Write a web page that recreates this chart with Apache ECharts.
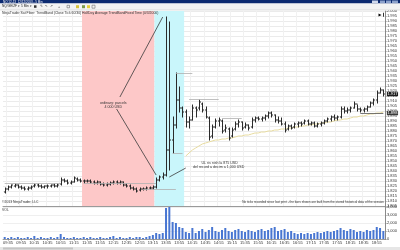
<!DOCTYPE html>
<html><head><meta charset="utf-8">
<script src="https://cdn.jsdelivr.net/npm/echarts@6/dist/echarts.min.js"></script>
<style>html,body{margin:0;padding:0;background:#fff}#c{width:400px;height:250px}</style>
</head><body><div id="c"></div>
<script>
// 5-minute bars
const categories = [];
for (let k = 0; k < 116; k++) {
  const m = 9 * 60 + 30 + 5 * k;
  categories.push(String(Math.floor(m / 60)).padStart(2, '0') + ':' + String(m % 60).padStart(2, '0'));
}
const opens = [1.819,1.822,1.824,1.825,1.826,1.824,1.823,1.822,1.823,1.825,1.826,1.825,1.824,1.825,1.825,1.826,1.825,1.827,1.831,1.830,
1.828,1.829,1.832,1.831,1.830,1.830,1.830,1.829,1.828,1.829,1.827,1.826,1.827,1.828,1.829,1.828,1.829,1.826,1.825,1.823,
1.822,1.821,1.822,1.822,1.823,1.823,1.824,1.831,1.834,1.836,1.861,1.871,1.886,1.911,1.903,1.899,1.889,1.891,1.903,1.903,
1.907,1.901,1.893,1.875,1.884,1.890,1.890,1.881,1.882,1.875,1.882,1.887,1.889,1.884,1.886,1.884,1.891,1.893,1.892,1.893,
1.895,1.898,1.896,1.891,1.890,1.887,1.882,1.885,1.884,1.887,1.888,1.888,1.890,1.887,1.888,1.885,1.887,1.888,1.890,1.892,
1.894,1.893,1.894,1.902,1.900,1.901,1.903,1.907,1.902,1.901,1.902,1.904,1.908,1.911,1.918,1.921];
const closes = [1.822,1.824,1.826,1.826,1.824,1.823,1.822,1.823,1.824,1.826,1.825,1.824,1.825,1.825,1.826,1.825,1.826,1.831,1.830,1.828,
1.829,1.833,1.831,1.830,1.830,1.830,1.829,1.828,1.829,1.827,1.826,1.827,1.828,1.829,1.828,1.829,1.826,1.825,1.823,1.822,
1.820,1.822,1.822,1.823,1.823,1.824,1.831,1.834,1.836,1.861,1.871,1.886,1.911,1.903,1.899,1.889,1.891,1.903,1.901,1.909,
1.901,1.894,1.874,1.884,1.890,1.891,1.880,1.883,1.873,1.881,1.887,1.889,1.883,1.886,1.883,1.891,1.893,1.892,1.893,1.895,
1.898,1.896,1.891,1.890,1.887,1.881,1.885,1.883,1.887,1.888,1.887,1.890,1.887,1.888,1.885,1.887,1.888,1.890,1.892,1.894,
1.893,1.894,1.902,1.900,1.901,1.903,1.907,1.902,1.901,1.902,1.904,1.908,1.911,1.918,1.921,1.917];
const lows = [1.818,1.821,1.823,1.824,1.823,1.822,1.821,1.821,1.822,1.824,1.824,1.823,1.823,1.823,1.824,1.824,1.824,1.826,1.829,1.827,
1.827,1.829,1.830,1.829,1.828,1.829,1.828,1.827,1.827,1.826,1.825,1.825,1.826,1.827,1.827,1.827,1.825,1.824,1.822,1.821,
1.819,1.820,1.821,1.821,1.822,1.822,1.823,1.830,1.832,1.835,1.841,1.858,1.883,1.899,1.894,1.884,1.883,1.891,1.894,1.901,
1.899,1.893,1.871,1.873,1.883,1.885,1.878,1.879,1.871,1.874,1.881,1.884,1.881,1.883,1.881,1.883,1.889,1.891,1.890,1.891,
1.893,1.894,1.889,1.888,1.886,1.879,1.881,1.882,1.883,1.884,1.885,1.887,1.886,1.886,1.884,1.884,1.885,1.887,1.889,1.890,
1.891,1.891,1.893,1.898,1.898,1.899,1.903,1.900,1.899,1.899,1.900,1.904,1.906,1.908,1.918,1.915];
const highs = [1.823,1.825,1.826,1.827,1.826,1.825,1.824,1.824,1.825,1.827,1.827,1.826,1.825,1.826,1.826,1.827,1.827,1.833,1.832,1.831,
1.830,1.834,1.833,1.832,1.831,1.831,1.831,1.830,1.830,1.829,1.828,1.828,1.829,1.830,1.830,1.830,1.829,1.827,1.826,1.824,
1.823,1.823,1.823,1.824,1.824,1.825,1.833,1.835,1.838,1.994,1.989,1.894,1.938,1.924,1.904,1.901,1.894,1.906,1.904,1.911,
1.908,1.904,1.894,1.886,1.892,1.893,1.891,1.886,1.883,1.883,1.889,1.891,1.889,1.888,1.886,1.893,1.894,1.894,1.894,1.896,
1.899,1.899,1.896,1.894,1.893,1.889,1.886,1.886,1.888,1.889,1.889,1.891,1.891,1.889,1.889,1.888,1.889,1.891,1.893,1.895,
1.896,1.895,1.904,1.904,1.903,1.904,1.909,1.906,1.903,1.903,1.905,1.909,1.912,1.920,1.923,1.921];
const volumes = [250,125,250,125,250,125,125,250,125,375,125,250,125,125,250,125,250,625,
250,125,125,250,125,125,250,125,250,125,125,250,125,125,250,375,125,250,125,125,250,125,250,250,125,250,
375,500,750,625,750,3875,4000,2125,2000,1500,1375,875,750,1375,750,
1000,1250,875,1125,1500,1000,875,1125,1375,1000,875,1125,1250,1000,875,1125,1000,875,1125,1250,
1000,1125,1375,1500,1000,1125,1250,875,1000,750,625,750,625,750,625,750,875,750,875,1000,
875,1000,1125,1375,1125,1000,1250,1125,875,1000,875,1125,1000,1125,1500,1375,1000];
const maValues = [null,null,null,null,null,null,null,null,null,null,null,null,null,null,null,null,null,null,null,null,
null,null,null,null,null,null,null,null,null,null,null,null,null,null,null,null,null,null,null,null,
null,null,null,null,null,null,null,null,null,null,null,null,null,null,null,
1.855,1.858,1.861,1.863,1.865,1.867,1.868,1.869,1.870,1.871,1.871,1.872,1.872,1.873,1.873,1.874,1.875,1.875,1.876,1.876,
1.877,1.878,1.878,1.879,1.879,1.880,1.880,1.881,1.881,1.882,1.882,1.883,1.883,1.884,1.884,1.885,1.885,1.886,1.886,1.887,
1.887,1.888,1.888,1.889,1.889,1.890,1.891,1.891,1.892,1.892,1.893,1.894,1.894,1.895,1.895,1.896,1.897,1.897,1.898,1.898,1.899];
// shaded sessions: [first bar, last bar]
const zones = [[24, 45], [46, 54]];
// horizontal level segments: [first bar, last bar, price]
const levels = [[0,17,1.828],[24,46,1.828],[42,52,1.822],[51,54,1.858],[52,57,1.938],[56,65,1.912],[66,72,1.893]];
// annotation arrows: [bar, price] -> [bar, price]
const arrows = [[[35,1.914],[48,1.994]],[[34,1.902],[46,1.836]],[[55,1.843],[50,1.834]]];
const notes = [[33,1.906,'ordinary: parcels\n4 000 USD'],[65,1.846,'  UL ris nish la 875 USD\ndel record a decim a 1,000 USD']];
const lastLevel = [108, 115, 1.898];

const zoneColors = ['#fdc8c8', '#c9f6fb'];
const FONT = 'Liberation Sans';
const lblInt = function (i) { return i % 4 === 1; };

const chart = echarts.init(document.getElementById('c'), null, {renderer: 'canvas'});
const ohlc = categories.map((c, k) => [k, opens[k], closes[k], lows[k], highs[k]]);

chart.setOption({
  animation: false,
  textStyle: {fontFamily: FONT},
  grid: [
    {left: 3, right: 14, top: 11, height: 195},
    {left: 3, right: 14, top: 207, height: 32}
  ],
  xAxis: [
    {type: 'category', data: categories, gridIndex: 0, boundaryGap: true,
     axisLine: {show: true, lineStyle: {color: '#9a9a9a', width: 1}}, axisTick: {show: false}, axisLabel: {show: false},
     splitLine: {show: true, interval: lblInt, lineStyle: {color: '#f1f1f1', width: 1}}},
    {type: 'category', data: categories, gridIndex: 1, boundaryGap: true,
     axisLine: {show: true, lineStyle: {color: '#9a9a9a', width: 1}},
     axisTick: {show: true, interval: lblInt, alignWithLabel: true, length: 1.5, lineStyle: {color: '#888'}},
     axisLabel: {show: true, interval: lblInt, fontSize: 4, margin: 2, color: '#333', fontFamily: FONT},
     splitLine: {show: false}}
  ],
  yAxis: [
    {type: 'value', gridIndex: 0, position: 'right', min: 1.805, max: 2.000, interval: 0.005,
     axisLine: {show: true, lineStyle: {color: '#8a8a8a', width: 1}},
     axisTick: {show: true, length: 1.5, lineStyle: {color: '#888'}},
     axisLabel: {fontSize: 4, margin: 2, color: '#333', fontFamily: FONT, formatter: v => v.toFixed(3)},
     splitLine: {show: true, lineStyle: {color: '#ebebeb', width: 1}}},
    {type: 'value', gridIndex: 1, position: 'right', min: 0, max: 4000, interval: 1000,
     axisLine: {show: true, lineStyle: {color: '#8a8a8a', width: 1}},
     axisTick: {show: true, length: 1.5, lineStyle: {color: '#888'}},
     axisLabel: {fontSize: 4, margin: 2, color: '#333', fontFamily: FONT},
     splitLine: {show: true, lineStyle: {color: '#efefef', width: 1}}}
  ],
  series: [
    {type: 'custom', name: 'zones', xAxisIndex: 0, yAxisIndex: 0, z: 1, silent: true,
     data: zones.map((z, k) => [z[0], z[1], 1.9, k]),
     encode: {x: [0, 1], y: 2},
     renderItem: function (params, api) {
       const a = api.coord([api.value(0), 1.9]);
       const b = api.coord([api.value(1), 1.9]);
       const w = api.size([1, 0])[0];
       const cs = params.coordSys;
       return {type: 'rect', shape: {x: a[0] - w / 2, y: cs.y, width: b[0] - a[0] + w, height: cs.height},
               style: {fill: zoneColors[api.value(3)]}};
     }},
    {type: 'line', name: 'avg', xAxisIndex: 0, yAxisIndex: 0, z: 3, data: maValues, showSymbol: false, symbol: 'none',
     connectNulls: false, lineStyle: {color: '#e8dca0', width: 1},
     markLine: {symbol: ['none', 'none'], silent: true, label: {show: false}, animation: false,
       data: levels.map(l => [{coord: [l[0], l[2]], lineStyle: {color: '#b0b0b0', width: 0.8, type: 'solid'}}, {coord: [l[1], l[2]]}])
         .concat(arrows.map(a => [{coord: a[0], lineStyle: {color: '#3a3a3a', width: 0.8, type: 'solid'}}, {coord: a[1]}]))
         .concat([[{coord: [lastLevel[0], lastLevel[2]], lineStyle: {color: '#555', width: 0.8, type: 'solid'}}, {coord: [lastLevel[1], lastLevel[2]]}]])
     },
     markPoint: {silent: true, animation: false,
       data: notes.map(n => ({coord: [n[0], n[1]], symbol: 'rect', symbolSize: 0,
         label: {show: true, position: 'inside', formatter: n[2], fontSize: 3.6, lineHeight: 4.2, color: '#333', fontFamily: FONT}}))
         .concat([
           {coord: [115, closes[115]], symbol: 'rect', symbolSize: 0,
            label: {show: true, position: 'right', distance: 3.5, formatter: closes[115].toFixed(3), fontSize: 4, color: '#fff',
                    backgroundColor: '#1e1e1e', padding: [0.5, 0.6, 0, 0.6], fontFamily: FONT}},
           {coord: [115, lastLevel[2]], symbol: 'rect', symbolSize: 0,
            label: {show: true, position: 'right', distance: 3.5, formatter: lastLevel[2].toFixed(3), fontSize: 4, color: '#fff',
                    backgroundColor: '#3a3a3a', padding: [0.5, 0.6, 0, 0.6], fontFamily: FONT}}
         ])
     }},
    {type: 'custom', name: 'price', xAxisIndex: 0, yAxisIndex: 0, z: 4, data: ohlc,
     encode: {x: 0, y: [1, 2, 3, 4]},
     renderItem: function (params, api) {
       const i = api.value(0);
       const o = api.coord([i, api.value(1)]);
       const c = api.coord([i, api.value(2)]);
       const l = api.coord([i, api.value(3)]);
       const h = api.coord([i, api.value(4)]);
       const x = Math.round(o[0]) + 0.5;
       const st = {stroke: '#2b2b2b', lineWidth: 1};
       return {type: 'group', children: [
         {type: 'line', shape: {x1: x, y1: h[1] - 0.5, x2: x, y2: l[1] + 0.5}, style: st},
         {type: 'line', shape: {x1: x - 1.5, y1: o[1], x2: x, y2: o[1]}, style: st},
         {type: 'line', shape: {x1: x, y1: c[1], x2: x + 1.5, y2: c[1]}, style: st}
       ]};
     }},
    {type: 'bar', name: 'VOL', xAxisIndex: 1, yAxisIndex: 1, data: volumes, barWidth: 2,
     itemStyle: {color: '#4876d2'}}
  ],
  graphic: [
    {type: 'rect', z: 100, shape: {x: 0, y: 0, width: 400, height: 3.5}, style: {fill: '#0c2a70'}},
    {type: 'text', z: 101, style: {x: 3, y: 0.3, text: 'NQ 12-13  12/12/2013 - 5 Min', fill: '#fff', fontSize: 3, fontFamily: FONT}},
    {type: 'rect', z: 101, shape: {x: 372, y: 0.5, width: 6, height: 2.5}, style: {fill: '#cfd8ec'}},
    {type: 'rect', z: 101, shape: {x: 380, y: 0.5, width: 5, height: 2.5}, style: {fill: '#8da2cc'}},
    {type: 'rect', z: 101, shape: {x: 386, y: 0.5, width: 5, height: 2.5}, style: {fill: '#8da2cc'}},
    {type: 'rect', z: 101, shape: {x: 392, y: 0.5, width: 6, height: 2.5}, style: {fill: '#8da2cc'}},
    {type: 'rect', z: 100, shape: {x: 0, y: 3.5, width: 400, height: 6.5}, style: {fill: '#f3f3f3'}},
    {type: 'line', z: 100, shape: {x1: 0, y1: 10, x2: 400, y2: 10}, style: {stroke: '#cfcfcf', lineWidth: 0.6}},
    {type: 'text', z: 101, style: {x: 2, y: 5, text: 'NQ/GE/ZF \u25BE', fill: '#222', fontSize: 3.2, fontFamily: FONT}},
    {type: 'text', z: 101, style: {x: 21, y: 5, text: '5 Min \u25BE', fill: '#222', fontSize: 3.2, fontFamily: FONT}},
    {type: 'rect', z: 101, shape: {x: 34, y: 5.3, width: 2.5, height: 2.5}, style: {fill: '#333'}},
    {type: 'text', z: 101, style: {x: 40, y: 4.8, text: '\u270E  \u2196  \u2197', fill: '#333', fontSize: 3.4, fontFamily: 'DejaVu Sans'}},
    {type: 'text', z: 101, style: {x: 58, y: 4.8, text: '+', fill: '#333', fontSize: 3.6, fontFamily: FONT}},
    {type: 'rect', z: 101, shape: {x: 67, y: 5.3, width: 2.5, height: 2.5}, style: {fill: 'none', stroke: '#555', lineWidth: 0.5}},
    {type: 'rect', z: 101, shape: {x: 76, y: 5.2, width: 3, height: 3}, style: {fill: '#d8c23a'}},
    {type: 'rect', z: 101, shape: {x: 82, y: 5.2, width: 3, height: 3}, style: {fill: '#7a9a4a'}},
    {type: 'rect', z: 101, shape: {x: 87, y: 5.2, width: 3, height: 3}, style: {fill: '#e4cf3c'}},
    {type: 'rect', z: 101, shape: {x: 92, y: 5.2, width: 3, height: 3}, style: {fill: 'none', stroke: '#555', lineWidth: 0.5}},
    {type: 'text', z: 101, style: {x: 2, y: 11.8, text: 'NinjaTrader Sat Fiber: TrendBand (Close Tick 60/30) HalfDay Average TrendBandFixed Time (0/3/2000)', fill: '#333', fontSize: 3.4, fontFamily: FONT}},
    {type: 'text', z: 101, style: {x: 378.5, y: 12.5, text: '\u25B6', fill: '#000', fontSize: 4, fontFamily: 'DejaVu Sans'}},
    {type: 'rect', z: 101, shape: {x: 383, y: 12.8, width: 0.8, height: 4}, style: {fill: '#000'}},
    {type: 'text', z: 101, style: {x: 2, y: 200.5, text: '\u00A92013 NinjaTrader, LLC', fill: '#333', fontSize: 3.4, fontFamily: FONT}},
    {type: 'text', z: 101, style: {x: 384, y: 200.5, align: 'right', text: 'No ticks recorded since last print - the bars shown are built from the stored historical data of the session', fill: '#333', fontSize: 3.1, fontFamily: FONT}},
    {type: 'text', z: 101, style: {x: 2, y: 208.5, text: 'VOL', fill: '#333', fontSize: 3.4, fontFamily: FONT}},
    {type: 'rect', z: 100, shape: {x: 0, y: 247, width: 400, height: 3}, style: {fill: '#e6e6e6'}},
    {type: 'rect', z: 101, shape: {x: 3, y: 247.5, width: 70, height: 2}, style: {fill: '#c4c4c4'}}
  ]
});
</script></body></html>
